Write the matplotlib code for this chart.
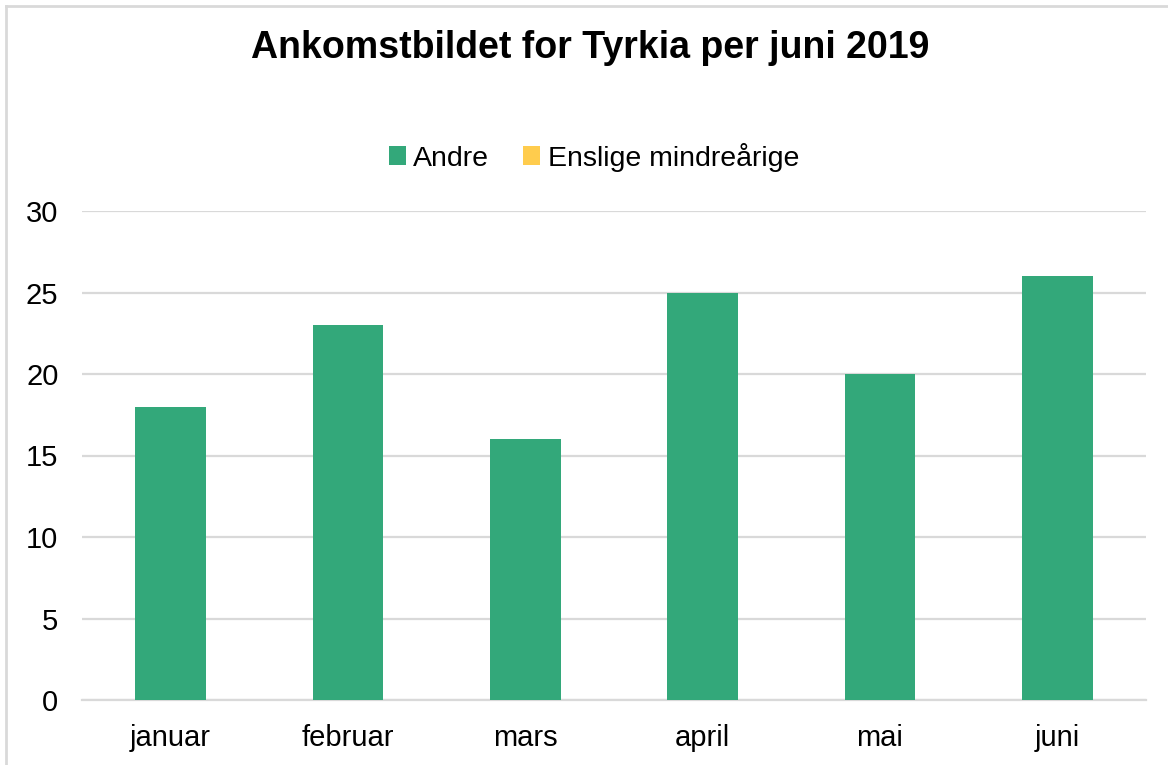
import matplotlib
matplotlib.use("Agg")
import matplotlib.pyplot as plt
from matplotlib.lines import Line2D
from matplotlib.patches import Patch
import numpy as np

plt.rcParams['font.family'] = ['Liberation Sans', 'DejaVu Sans']

title = "Ankomstbildet for Tyrkia per juni 2019"
months = ["januar", "februar", "mars", "april", "mai", "juni"]
andre = [18, 23, 16, 25, 20, 26]
enslige = [0, 0, 0, 0, 0, 0]
series_names = ["Andre", "Enslige mindreårige"]
colors = ["#33A87A", "#FFCC4D"]
yticks = [0, 5, 10, 15, 20, 25, 30]

fig = plt.figure(figsize=(11.68, 7.65), dpi=100)
ax = fig.add_axes([82/1168, 1-700/765, (1146-82)/1168, (700-211)/765])

x = np.arange(len(months))
ax.bar(x, andre, width=0.4, color=colors[0], zorder=3)
ax.bar(x, enslige, width=0.4, bottom=andre, color=colors[1], zorder=3)

ax.set_xlim(-0.5, len(months)-0.5)
ax.set_ylim(0, 30)
ax.set_yticks(yticks)
ax.set_xticks(x)
ax.set_xticklabels(months)
ax.tick_params(axis='both', length=0, labelsize=21, colors='#000000')
ax.tick_params(axis='x', pad=17)
ax.tick_params(axis='y', pad=17)
ax.yaxis.grid(True, color='#d9d9d9', linewidth=1.6, zorder=0)
for s in ['top', 'right', 'left']:
    ax.spines[s].set_visible(False)
ax.spines['bottom'].set_color('#d9d9d9')
ax.spines['bottom'].set_linewidth(1.6)

fig.text(590/1168, 1-48/765, title, ha='center', va='center', fontsize=27, fontweight='bold')

handles = [Patch(facecolor=c, edgecolor='none') for c in colors]
fig.legend(handles, series_names, loc='center', bbox_to_anchor=(594/1168, 1-157/765),
           ncol=2, frameon=False, fontsize=20.5, handlelength=0.6, handleheight=0.6,
           handletextpad=0.25, columnspacing=1.2)

fig.add_artist(Line2D([6/1168, 1], [1-6/765, 1-6/765], transform=fig.transFigure, color='#d9d9d9', linewidth=2))
fig.add_artist(Line2D([6/1168, 6/1168], [0, 1-6/765], transform=fig.transFigure, color='#d9d9d9', linewidth=2))

fig.savefig("out.png", dpi=100)
